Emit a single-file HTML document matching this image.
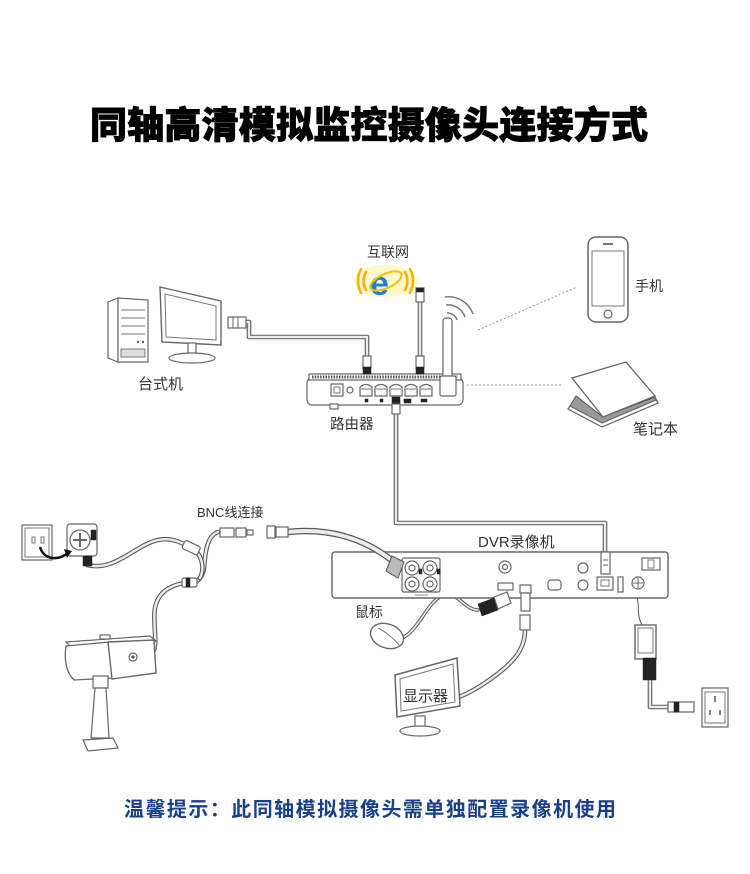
<!DOCTYPE html>
<html><head><meta charset="utf-8">
<style>
html,body{margin:0;padding:0;background:#fff;}
svg{display:block;}
text{font-family:"Liberation Sans","Noto Sans CJK SC",sans-serif;}
.o{fill:#fff;stroke:#666;stroke-width:1.2;}
.ol{fill:none;stroke:#777;stroke-width:1;}
.cab{fill:none;stroke:#5a5a5a;stroke-width:4.6;stroke-linecap:round;stroke-linejoin:round;}
.cabi{fill:none;stroke:#ececec;stroke-width:2.4;stroke-linecap:round;stroke-linejoin:round;}
.dk{fill:#222;stroke:#222;stroke-width:0.5;}
</style></head><body>
<svg width="750" height="874" viewBox="0 0 750 874" xmlns="http://www.w3.org/2000/svg">
<defs>
<path id="c1" d="M246,322 L249,322 L249,337 L367,337 L367,358"/>
<path id="c2" d="M420,300 L420,358"/>
<path id="c3" d="M396,410 L396,523 L605,523 L605,556"/>
<path id="c4" d="M288,532 C325,528 362,536 394,562"/>
<path id="c5" d="M218,532 C206,536 205,556 204,568 C203,575 200,579 196,582"/>
<path id="c6" d="M87,565 C115,572 135,545 158,540 C172,537 182,543 192,548 C202,554 205,568 200,578"/>
<path id="c7" d="M184,583 C168,586 158,593 155,608 C152,625 160,648 150,656 C145,659 140,658 136,657"/>
<path id="c8" d="M525,630 C525,648 515,660 500,672 C482,686 468,694 456,698"/>
<path id="c9" d="M404,637 C420,628 428,600 444,595 C458,591 464,610 478,610"/>
<path id="c11" d="M650,680 L650,707 L668,707"/>
</defs>

<!-- Title -->
<text x="90" y="138" font-size="37" font-weight="900" textLength="558" lengthAdjust="spacing" fill="#000" stroke="#000" stroke-width="0.9">同轴高清模拟监控摄像头连接方式</text>

<!-- cables -->
<use href="#c1" class="cab"/><use href="#c1" class="cabi"/>
<use href="#c2" class="cab"/><use href="#c2" class="cabi"/>
<use href="#c3" class="cab"/><use href="#c3" class="cabi"/>
<use href="#c5" class="cab"/><use href="#c5" class="cabi"/>
<use href="#c6" class="cab"/><use href="#c6" class="cabi"/>
<use href="#c7" class="cab"/><use href="#c7" class="cabi"/>
<use href="#c8" class="cab"/><use href="#c8" class="cabi"/>
<use href="#c9" class="cab" style="stroke-width:3.6"/><use href="#c9" class="cabi" style="stroke-width:1.6"/>
<use href="#c11" class="cab"/><use href="#c11" class="cabi"/>

<!-- Internet -->
<text x="367" y="257" font-size="14" fill="#333">互联网</text>
<ellipse cx="386" cy="281" rx="32" ry="16" fill="#fff7c8"/>
<g fill="none" stroke="#f0b000" stroke-width="2.5" stroke-linecap="round">
<path d="M366,272 Q361,281 366,290"/><path d="M361,269 Q355,281 361,293"/>
<path d="M405,272 Q410,281 405,290"/><path d="M410,269 Q416,281 410,293"/>
</g>
<text x="370" y="295" font-size="34" font-weight="bold" fill="#1f80d8">e</text>
<ellipse cx="386" cy="281" rx="17" ry="7" transform="rotate(-25 386 281)" fill="none" stroke="#f2c200" stroke-width="2"/>
<rect x="416" y="288" width="8" height="14" class="o"/>
<rect x="416.5" y="288" width="7" height="4" class="dk"/>

<!-- Desktop -->
<polygon points="108,302 118,298 118,362 108,358" class="o"/>
<polygon points="118,298 148,300 148,362 118,362" class="o"/>
<g class="ol">
<line x1="121" y1="310" x2="145" y2="310"/><line x1="121" y1="318" x2="145" y2="318"/>
<line x1="121" y1="326" x2="145" y2="326"/><line x1="121" y1="334" x2="145" y2="334"/>
<rect x="121" y="349" width="24" height="8" style="fill:#ddd"/>
</g>
<circle cx="138" cy="342" r="1.2" fill="#555"/><circle cx="143" cy="342" r="1.2" fill="#555"/>
<polygon points="160,287 221,301 221,345 162,342" class="o" style="stroke-width:1.4"/>
<polygon points="165,294 216,306 216,340 166,337" class="ol"/>
<rect x="188" y="343" width="8" height="12" class="o"/>
<ellipse cx="192" cy="358" rx="23" ry="5" class="o"/>
<rect x="228" y="317" width="18" height="11" class="o"/>
<line x1="233" y1="317" x2="233" y2="328" stroke="#666"/><line x1="238" y1="317" x2="238" y2="328" stroke="#666"/>
<text x="138" y="389" font-size="15" fill="#333">台式机</text>

<!-- Router -->
<rect x="307" y="378" width="156" height="27" rx="5" class="o"/>
<rect x="309" y="374" width="152" height="6" class="o"/>
<line x1="312" y1="377" x2="458" y2="377" stroke="#555" stroke-width="3" stroke-dasharray="1.5 1.2"/>
<rect x="331" y="384" width="12" height="12" class="o"/>
<rect x="334" y="387" width="6" height="6" class="ol"/>
<circle cx="350" cy="390" r="3" class="o"/>
<g class="o">
<path d="M360,396 L360,387 Q366,382 372,387 L372,396 Z"/>
<path d="M375,396 L375,387 Q381,382 387,387 L387,396 Z"/>
<path d="M390,396 L390,387 Q396,382 402,387 L402,396 Z"/>
<path d="M405,396 L405,387 Q411,382 417,387 L417,396 Z"/>
<path d="M420,396 L420,387 Q426,382 432,387 L432,396 Z"/>
</g>
<g class="ol"><line x1="361" y1="389" x2="371" y2="389"/><line x1="376" y1="389" x2="386" y2="389"/><line x1="391" y1="389" x2="401" y2="389"/><line x1="406" y1="389" x2="416" y2="389"/><line x1="421" y1="389" x2="431" y2="389"/></g>
<rect x="365" y="399" width="3" height="3" class="dk"/><rect x="380" y="399" width="3" height="3" class="dk"/>
<rect x="404" y="399" width="7" height="4" class="dk"/><rect x="421" y="399" width="6" height="3" class="dk"/>
<rect x="330" y="404" width="8" height="5" class="o"/>
<rect x="443" y="318" width="9" height="74" rx="3" class="o"/>
<rect x="440" y="376" width="16" height="20" rx="2" class="o"/>
<rect x="363" y="356" width="8" height="12" class="o"/><rect x="363" y="367" width="8" height="7" class="dk"/>
<rect x="416" y="356" width="8" height="12" class="o"/><rect x="416" y="367" width="8" height="7" class="dk"/>
<rect x="392" y="397" width="8" height="7" class="dk"/><rect x="392" y="404" width="8" height="10" class="o"/>
<g fill="none" stroke="#777" stroke-width="1.5">
<path d="M447,313 A10,10 0 0 1 457,320"/>
<path d="M446,305 A18,18 0 0 1 465,317"/>
<path d="M445,297 A26,26 0 0 1 473,314"/>
</g>
<text x="330" y="429" font-size="14.5" fill="#333">路由器</text>

<!-- Phone -->
<line x1="478" y1="330" x2="577" y2="287" stroke="#999" stroke-width="1" stroke-dasharray="2 2"/>
<rect x="588" y="237" width="40" height="85" rx="8" class="o" style="stroke-width:1.5"/>
<rect x="592" y="251" width="32" height="55" class="ol"/>
<line x1="603" y1="244" x2="613" y2="244" stroke="#777" stroke-width="2"/>
<circle cx="608" cy="314" r="4" class="o"/>
<text x="635" y="291" font-size="14" fill="#333">手机</text>

<!-- Laptop -->
<line x1="467" y1="385" x2="563" y2="385" stroke="#999" stroke-width="1" stroke-dasharray="2 2"/>
<polygon points="568,409 602,427 658,403 655,397 603,417 576,396" fill="#9a9a9a" stroke="#555"/>
<polygon points="568,409 602,427 658,403 656,400 602,423 570,406" class="o"/>
<polygon points="572,378 626,362 655,396 603,417" class="o" style="stroke-width:1.3"/>
<text x="633" y="434" font-size="15" fill="#333">笔记本</text>

<!-- DVR -->
<text x="478" y="547" font-size="15" fill="#333">DVR录像机</text>
<rect x="332" y="552" width="336" height="46" rx="3" class="o" style="stroke-width:1.4"/>
<rect x="402" y="558" width="38" height="34" rx="2" class="o"/>
<g class="o">
<circle cx="412" cy="568" r="7"/><circle cx="430" cy="568" r="7"/>
<circle cx="412" cy="584" r="7"/><circle cx="430" cy="584" r="7"/>
<circle cx="412" cy="568" r="3"/><circle cx="430" cy="568" r="3"/>
<circle cx="412" cy="584" r="3"/><circle cx="430" cy="584" r="3"/>
</g>
<rect x="419" y="569" width="3" height="5" class="dk"/><rect x="437" y="569" width="3" height="5" class="dk"/>
<line x1="415" y1="595" x2="428" y2="595" stroke="#888" stroke-width="1"/>
<!-- BNC cable over DVR -->
<use href="#c4" class="cab" style="stroke-width:6.5"/><use href="#c4" class="cabi" style="stroke-width:4"/>
<polygon points="392,556 404,562 398,578 386,571" fill="#bbb" stroke="#555"/>
<circle cx="505" cy="567" r="6" class="o"/><circle cx="505" cy="567" r="2.5" class="o"/>
<rect x="498" y="583" width="15" height="7" class="o"/>
<rect x="520" y="585" width="11" height="8" class="o"/>
<rect x="521" y="593" width="9" height="18" class="o"/>
<rect x="520" y="615" width="10" height="15" class="o"/>
<rect x="548" y="580" width="13" height="10" rx="3" class="o"/>
<circle cx="583" cy="568" r="5" class="o"/><circle cx="583" cy="585" r="5" class="o"/>
<rect x="597" y="577" width="16" height="13" class="o"/>
<rect x="601" y="580" width="8" height="6" class="ol"/>
<rect x="618" y="577" width="5" height="15" class="o"/>
<circle cx="638" cy="583" r="6" class="o"/><line x1="633" y1="583" x2="643" y2="583" stroke="#666"/><line x1="638" y1="578" x2="638" y2="588" stroke="#666"/>
<rect x="642" y="558" width="18" height="12" class="o"/><rect x="648" y="560" width="6" height="8" class="ol"/>
<rect x="601" y="552" width="9" height="22" class="o"/>
<line x1="603" y1="560" x2="608" y2="560" stroke="#666"/><line x1="603" y1="565" x2="608" y2="565" stroke="#666"/>
<text x="355" y="617" font-size="14" fill="#333">鼠标</text>

<!-- Mouse & USB -->
<ellipse cx="387" cy="636" rx="17" ry="12" transform="rotate(20 387 636)" class="o" style="stroke-width:1.4"/>
<path d="M378,628 Q390,634 400,646" class="ol"/>
<polygon points="478,604 494,598 498,610 482,616" class="dk"/>
<polygon points="494,597 507,592 511,603 498,609" class="o"/>

<!-- Display -->
<polygon points="395,675 457,658 460,706 397,717" class="o" style="stroke-width:1.5"/>
<polygon points="400,679 453,664 455,702 401,711" class="ol"/>
<rect x="415" y="716" width="10" height="11" class="o"/>
<ellipse cx="420" cy="731" rx="20" ry="5" class="o"/>
<text x="403" y="701" font-size="15" fill="#333">显示器</text>

<!-- Power adapter right -->
<path d="M637,598 C640,606 636,614 642,625" fill="none" stroke="#555" stroke-width="1"/>
<rect x="635" y="625" width="21" height="34" class="o" style="stroke-width:1.4"/>
<rect x="638" y="628" width="15" height="25" class="ol"/>
<rect x="643" y="658" width="13" height="22" class="dk"/>
<rect x="668" y="702" width="26" height="10" class="o"/>
<rect x="674" y="702" width="5" height="10" class="dk"/>
<rect x="702" y="688" width="26" height="39" class="o"/>
<rect x="705" y="692" width="20" height="31" class="ol"/>
<g stroke="#555" stroke-width="1.5"><line x1="715" y1="696" x2="715" y2="702"/><line x1="710" y1="710" x2="710" y2="715"/><line x1="720" y1="710" x2="720" y2="715"/></g>

<!-- Left: outlet + adapter -->
<rect x="22" y="525" width="30" height="35" class="o"/>
<rect x="25" y="528" width="24" height="29" class="ol"/>
<rect x="32" y="537" width="3" height="6" class="ol"/><rect x="41" y="537" width="3" height="6" class="ol"/>
<rect x="67" y="524" width="30" height="32" rx="3" class="o"/>
<circle cx="80" cy="540" r="10" class="o"/>
<line x1="73" y1="540" x2="87" y2="540" stroke="#666" stroke-width="2"/><line x1="80" y1="533" x2="80" y2="547" stroke="#666" stroke-width="2"/>
<rect x="91" y="530" width="5" height="10" class="dk"/>
<rect x="83" y="556" width="9" height="10" class="dk"/>
<path d="M40,547 C44,560 58,561 68,553" fill="none" stroke="#111" stroke-width="2.5"/>
<polygon points="64,549 72,551 67,558" fill="#111"/>

<!-- BNC connectors -->
<text x="197" y="517" font-size="13" fill="#333">BNC线连接</text>
<rect x="183" y="543" width="17" height="9" rx="2" class="o" transform="rotate(25 191 547)"/>
<rect x="182" y="578" width="15" height="9" rx="2" class="o"/>
<rect x="186" y="578" width="4" height="9" class="dk"/>
<rect x="220" y="528" width="14" height="9" class="o"/>
<rect x="236" y="528" width="10" height="9" class="o"/>
<rect x="247" y="530" width="6" height="5" class="o"/>
<rect x="267" y="526" width="8" height="12" class="o"/>
<rect x="276" y="527" width="12" height="10" class="o"/>

<!-- Camera -->
<path d="M66,642 L150,636 L156,641 L72,648 Z" class="o"/>
<path d="M66,646 L110,642 L112,678 L74,680 C66,672 64,660 66,646 Z" class="o" style="stroke-width:1.3"/>
<path d="M108,642 L154,640 L156,673 L112,679 Z" class="o" style="stroke-width:1.4"/>
<circle cx="133" cy="657" r="4" class="o"/><circle cx="133" cy="657" r="1.6" fill="#555"/>
<rect x="100" y="635" width="10" height="4" class="o"/>
<rect x="93" y="676" width="15" height="12" class="o"/>
<polygon points="95,688 106,688 109,738 91,738" class="o"/>
<polygon points="83,740 113,738 118,748 88,751" class="o"/>

<!-- Bottom note -->
<text x="124" y="816" font-size="20" font-weight="bold" fill="#1a3f8a" textLength="492" lengthAdjust="spacing">温馨提示：此同轴模拟摄像头需单独配置录像机使用</text>
</svg>
</body></html>
